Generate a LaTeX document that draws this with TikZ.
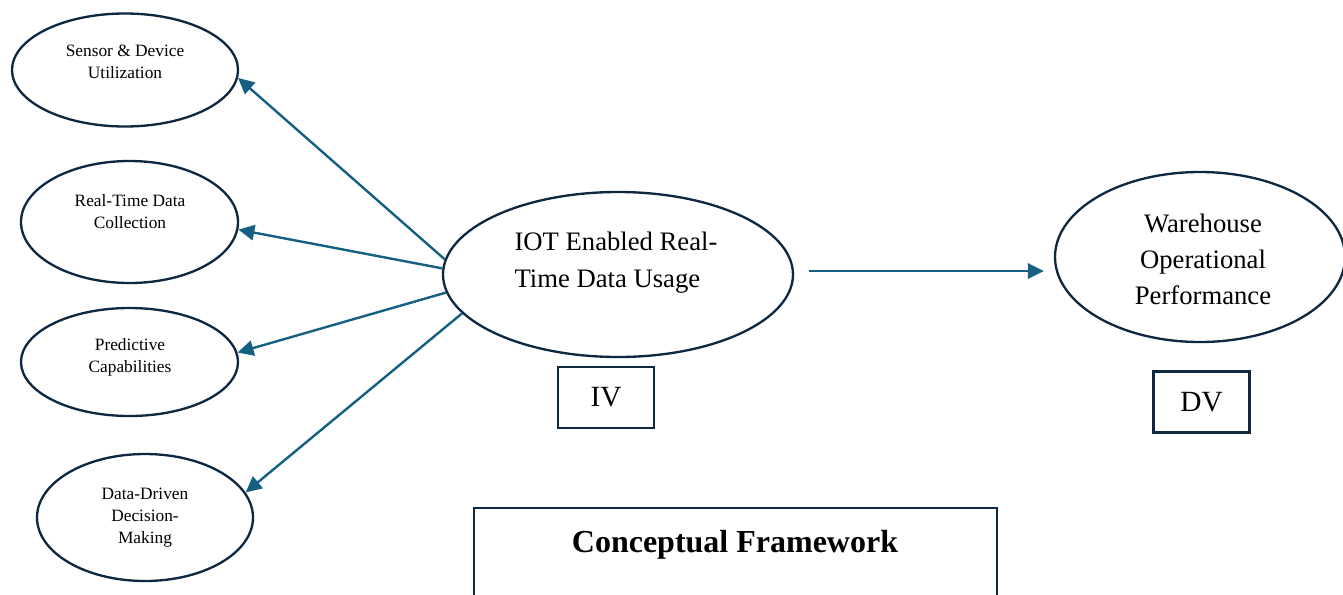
\documentclass[tikz,border=0pt]{standalone}
\usepackage{fontspec}
\setmainfont{Liberation Serif}
\usepackage{tikz}
\usetikzlibrary{arrows.meta,shapes.geometric}
\definecolor{edge}{HTML}{0E2841}
\definecolor{link}{HTML}{156082}

\begin{document}
\begin{tikzpicture}[x=0.75pt, y=-0.75pt, >={Triangle[length=12pt,width=11.5pt]},
  oval/.style={ellipse, draw=edge, line width=1.75pt, inner sep=0pt},
  small/.style={align=center, font=\fontsize{13}{16.5}\selectfont},
  big/.style={font=\fontsize{20}{27.5}\selectfont},
  tag/.style={rectangle, draw=edge, line width=1.8pt, inner sep=0pt,
              minimum width=72pt, minimum height=46pt, font=\fontsize{22}{26}\selectfont},
  conn/.style={draw=link, line width=1.8pt}]
  \useasboundingbox (0,0) rectangle (1343,594);
  % dimensions
  \node[oval, minimum width=169.5pt, minimum height=84.75pt] (S) at (125,70) {};
  \node[small] (St) at (125,62) {Sensor \& Device\\ Utilization};
  \node[oval, minimum width=162.75pt, minimum height=91.5pt] (R) at (129.5,222) {};
  \node[small] (Rt) at (130,212) {Real-Time Data\\ Collection};
  \node[oval, minimum width=162.75pt, minimum height=81pt] (P) at (129.5,362) {};
  \node[small] (Pt) at (130,357) {Predictive\\ Capabilities};
  \node[oval, minimum width=162pt, minimum height=95.25pt] (D) at (145,517.5) {};
  \node[small] (Dt) at (145,518) {Data-Driven\\ Decision-\\ Making};
  % variables
  \node[oval, minimum width=262.5pt, minimum height=123.75pt] (I) at (618,274.5) {};
  \node[big, align=left] (It) at (616,262.5) {IOT Enabled Real-\\ Time Data Usage};
  \node[oval, minimum width=217.5pt, minimum height=127.5pt] (W) at (1200,257) {};
  \node[big, align=center, font=\fontsize{20}{27}\selectfont] (Wt) at (1203,259)
    {Warehouse\\ Operational\\ Performance};
  \node[tag] (IV) at (606,397.5) {IV};
  \node[tag] (DV) at (1201.5,402) {DV};
  % title box, open at the bottom
  \node[rectangle, draw=edge, line width=1.8pt, minimum width=392.25pt,
        minimum height=84pt] (F) at (735.5,564) {};
  \node[font=\fontsize{24}{28}\selectfont\bfseries] (Ft) at (735,545) {Conceptual Framework};
  \draw[->, conn] (I.175) -- (S.-4);
  \draw[->, conn] (I.178) -- (R.-4);
  \draw[->, conn] (I.186) -- (P.5);
  \draw[->, conn] (I.194) -- (D.14);
  \draw[->, conn, shorten >=7.5pt] ([xshift=11.25pt,yshift=2.6pt]I.east) coordinate (a)
    -- (a -| W.west);
\end{tikzpicture}
\end{document}
